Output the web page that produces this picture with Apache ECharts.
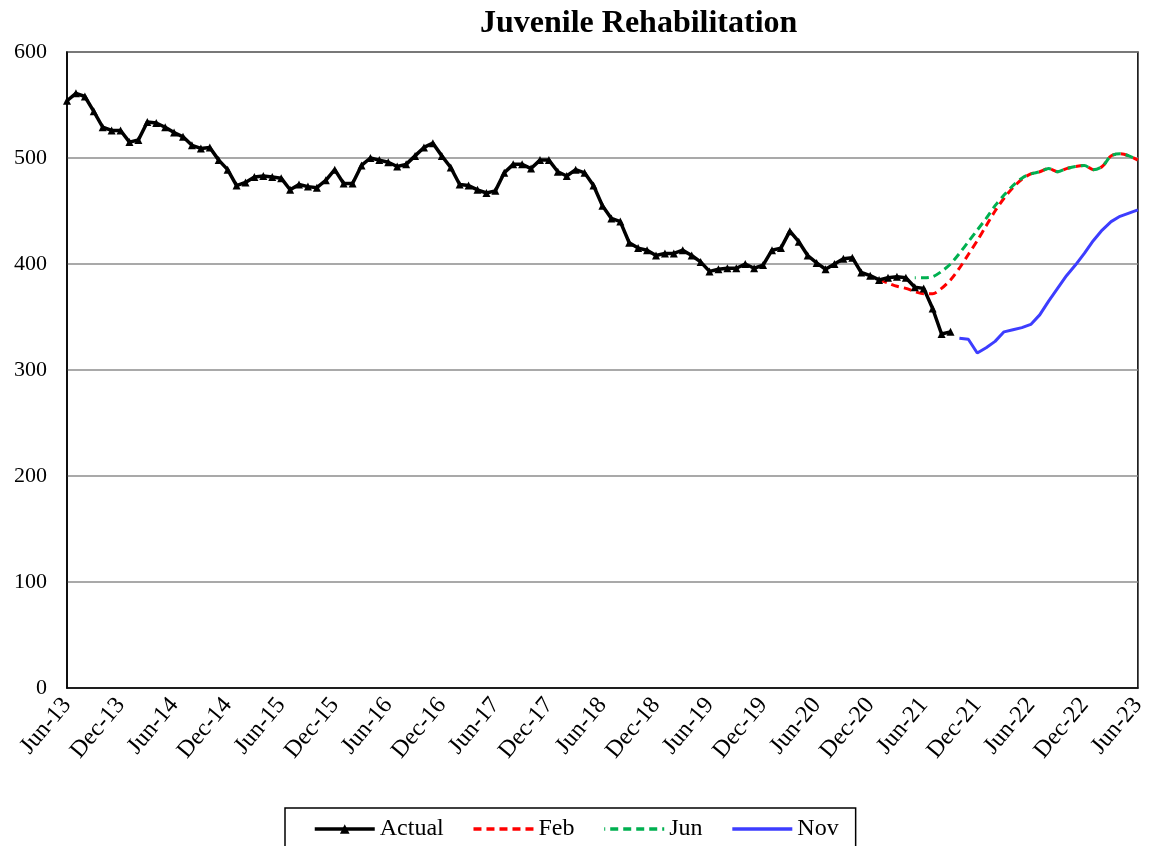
<!DOCTYPE html>
<html>
<head>
<meta charset="utf-8">
<script src="https://cdn.jsdelivr.net/npm/echarts@6/dist/echarts.min.js"></script>
<style>html,body{margin:0;padding:0;background:#fff;}#c{width:1149px;height:846px;}</style>
</head>
<body>
<div id="c"></div>
<script>
// Monthly categories Jun-13 .. Jun-23
var monthNames = ['Jan','Feb','Mar','Apr','May','Jun','Jul','Aug','Sep','Oct','Nov','Dec'];
var categories = [];
for (var k = 0; k <= 120; k++) {
  var m = (5 + k) % 12, y = 13 + Math.floor((5 + k) / 12);
  categories.push(monthNames[m] + '-' + y);
}

// Actual: Jun-13 .. Sep-21
var actualStart = 0;
var actual = [554,561,558,544,529,526,526,515,517,534,533,529,524,520,512,509,510,498,489,474,
  477,482,483,482,481,470,475,473,472,479,489,476,476,493,500,498,496,492,494,502,
  510,514,502,491,475,474,470,467,469,486,494,494,490,498,498,487,483,489,486,474,
  455,443,440,420,415,413,408,410,410,413,408,402,393,395,396,396,400,396,399,413,
  415,431,421,408,401,395,400,405,406,392,389,385,387,388,387,378,377,358,334,336];

// Feb forecast: Jan-21 .. Jun-23
var febStart = 91;
var feb = [385,382,379,377,374,372,372,377,385,396,409,422,436,450,462,472,480,485,487,490,
  487,490,492,493,489,492,502,504,502,498];

// Jun forecast: May-21 .. Jun-23
var junStart = 95;
var jun = [387,387,388,393,400,410,421,432,443,455,465,474,481,485,487,490,
  487,490,492,493,489,492,502,504,502,498];

// Nov forecast: Oct-21 .. Jun-23
var novStart = 100;
var nov = [330,329,316,321,327,336,338,340,343,352,365,377,389,399,410,422,432,440,445,448,451];

function pad(start, arr) {
  var out = [];
  for (var i = 0; i < categories.length; i++) {
    var j = i - start;
    out.push(j >= 0 && j < arr.length ? arr[j] : null);
  }
  return out;
}

var font = '"Liberation Serif", "Times New Roman", serif';
var noSym = {color: 'rgba(0,0,0,0)', borderWidth: 0};
var chart = echarts.init(document.getElementById('c'));
chart.setOption({
  animation: false,
  backgroundColor: '#fff',
  title: {
    text: 'Juvenile Rehabilitation',
    left: 475, top: 3,
    textStyle: {fontFamily: font, fontSize: 32, fontWeight: 'bold', color: '#000'}
  },
  grid: {left: 67, right: 6, top: 52, bottom: 158, show: true, borderColor: '#000', borderWidth: 1.5, containLabel: false},
  xAxis: {
    type: 'category', data: categories, boundaryGap: false,
    axisLine: {lineStyle: {color: '#000', width: 1.5}},
    axisTick: {show: false},
    axisLabel: {interval: 5, rotate: 50, fontFamily: font, fontSize: 24, color: '#000', margin: 13},
    splitLine: {show: false}
  },
  yAxis: {
    type: 'value', min: 0, max: 600, interval: 100,
    axisLine: {show: true, lineStyle: {color: '#000', width: 1.5}},
    axisTick: {show: false},
    axisLabel: {fontFamily: font, fontSize: 22, color: '#000', margin: 20},
    splitLine: {lineStyle: {color: '#8c8c8c', width: 1.5}}
  },
  legend: {
    left: 285, top: 808,
    padding: [9, 17, 14, 28],
    itemGap: 28, itemWidth: 60, itemHeight: 12,
    borderColor: '#000', borderWidth: 1.5,
    lineStyle: {width: 3.5},
    textStyle: {fontFamily: font, fontSize: 24, color: '#000'},
    data: [
      {name: 'Actual'},
      {name: 'Feb', itemStyle: noSym},
      {name: 'Jun', itemStyle: noSym},
      {name: 'Nov', itemStyle: noSym}
    ]
  },
  series: [
    {name: 'Actual', type: 'line', data: pad(actualStart, actual), symbol: 'triangle', symbolSize: 8,
     showAllSymbol: true,
     itemStyle: {color: '#000'}, lineStyle: {color: '#000', width: 3.5}, connectNulls: false, z: 3},
    {name: 'Feb', type: 'line', data: pad(febStart, feb), symbol: 'none', smooth: 0.3,
     itemStyle: {color: '#ff0000'}, lineStyle: {color: '#ff0000', width: 3, type: [8, 5]}, z: 2},
    {name: 'Jun', type: 'line', data: pad(junStart, jun), symbol: 'none', smooth: 0.3,
     itemStyle: {color: '#00b050'}, lineStyle: {color: '#00b050', width: 3, type: [8, 5], dashOffset: 7}, z: 2},
    {name: 'Nov', type: 'line', data: pad(novStart, nov), symbol: 'none',
     itemStyle: {color: '#3d3dff'}, lineStyle: {color: '#3d3dff', width: 3}, z: 2}
  ]
});
</script>
</body>
</html>
